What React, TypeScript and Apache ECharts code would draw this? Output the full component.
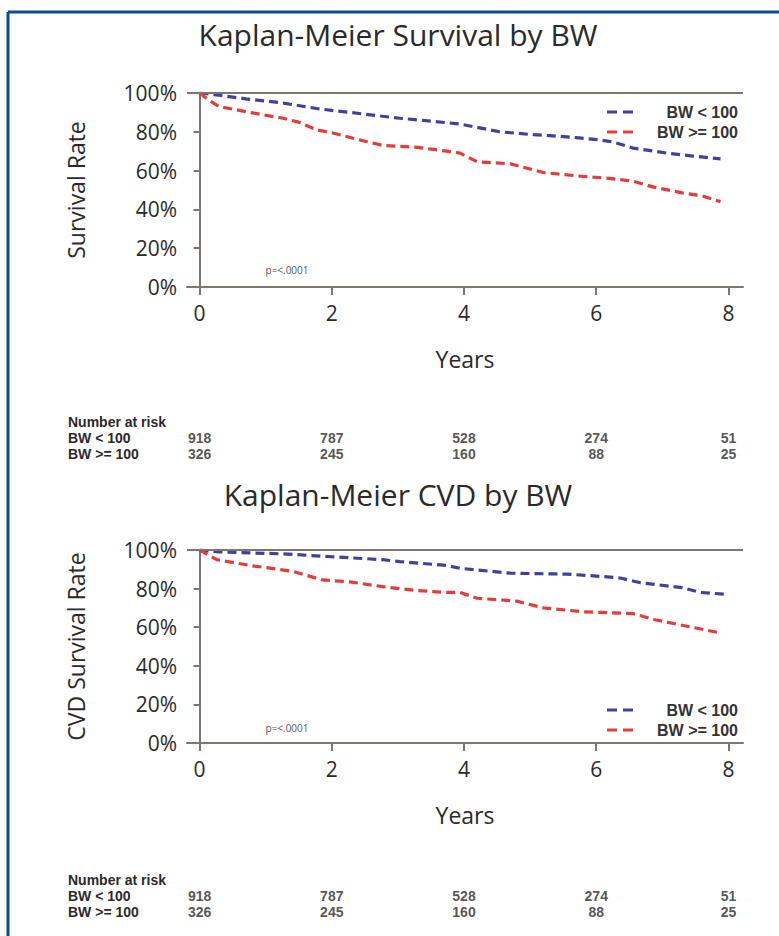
import React, { useEffect, useRef } from "react";
import * as echarts from "echarts";

// ---------- data ----------
const seriesNames = ["BW < 100", "BW >= 100"];
const xTicks = [0, 2, 4, 6, 8];

// Kaplan-Meier overall survival (time in years, survival fraction)
const survLow: [number, number][] = [
  [0, 1.0], [0.26, 0.99], [0.7, 0.97], [1.27, 0.948], [1.77, 0.92], [2.0, 0.91],
  [2.27, 0.9], [2.77, 0.88], [3.03, 0.87], [3.5, 0.855], [3.94, 0.84], [4.54, 0.8],
  [5.05, 0.785], [5.3, 0.78], [5.7, 0.77], [6.06, 0.758], [6.26, 0.747], [6.56, 0.716],
  [7.07, 0.69], [7.46, 0.675], [7.88, 0.66],
];
const survHigh: [number, number][] = [
  [0, 1.0], [0.15, 0.96], [0.3, 0.93], [0.76, 0.9], [1.26, 0.87], [1.5, 0.85],
  [1.77, 0.81], [2.0, 0.795], [2.52, 0.75], [2.77, 0.73], [3.3, 0.72], [3.74, 0.7],
  [3.94, 0.69], [4.2, 0.645], [4.7, 0.635], [5.2, 0.59], [5.8, 0.57], [6.2, 0.56],
  [6.56, 0.545], [6.87, 0.515], [7.3, 0.485], [7.6, 0.47], [7.88, 0.44],
];

// Kaplan-Meier CVD survival
const cvdLow: [number, number][] = [
  [0, 1.0], [0.3, 0.99], [1.26, 0.98], [2.0, 0.965], [2.77, 0.95], [3.03, 0.94],
  [3.74, 0.92], [3.94, 0.905], [4.7, 0.88], [5.55, 0.875], [6.0, 0.865], [6.36, 0.855],
  [6.67, 0.83], [7.3, 0.805], [7.58, 0.78], [7.98, 0.77],
];
const cvdHigh: [number, number][] = [
  [0, 1.0], [0.26, 0.95], [0.76, 0.92], [1.4, 0.89], [1.86, 0.845], [2.27, 0.835],
  [2.77, 0.81], [3.28, 0.79], [3.74, 0.78], [3.94, 0.78], [4.2, 0.75], [4.8, 0.735],
  [5.2, 0.7], [5.8, 0.68], [6.56, 0.67], [6.87, 0.64], [7.3, 0.61], [7.88, 0.57],
];

// Number at risk
const riskTimes = [0, 2, 4, 6, 8];
const riskLow = [918, 787, 528, 274, 51];
const riskHigh = [326, 245, 160, 88, 25];

const titles = ["Kaplan-Meier Survival by BW", "Kaplan-Meier CVD by BW"];
const yNames = ["Survival Rate", "CVD Survival Rate"];
const pText = "p=<.0001";

// ---------- style ----------
const FONT = "'Open Sans', 'Noto Sans', sans-serif";
const TFONT = "'Liberation Sans', Arial, sans-serif";
const AX = "#7d7570";
const BLUE = "#40409f";
const RED = "#e43c3a";
const TXT = "#2a2a2a";
const XMIN = -0.19;
const XMAX = 8.22;
const DASH_ICON = "path://M0,0H10V3H0Z M16,0H26V3H16Z";

export default function App() {
  const ref = useRef<HTMLDivElement>(null);

  useEffect(() => {
    document.body.style.margin = "0";
    if (!ref.current) return;
    const chart = echarts.init(ref.current, null, { renderer: "svg" });

    const plotGrids = [
      { left: 187, top: 93, width: 556, height: 194 },
      { left: 187, top: 550, width: 556, height: 193 },
    ];
    const riskGrids = [
      { left: 187, top: 430, width: 556, height: 32 },
      { left: 187, top: 888, width: 556, height: 32 },
    ];

    const plotX = (i: number) => ({
      gridIndex: i,
      type: "value",
      min: XMIN,
      max: XMAX,
      splitLine: { show: false },
      axisLine: { show: true, lineStyle: { color: AX, width: 2 } },
      axisTick: { show: true, length: 8, customValues: xTicks, lineStyle: { color: AX, width: 2 } },
      axisLabel: { customValues: xTicks, fontSize: 21, color: TXT, margin: 15, fontFamily: FONT },
      name: "Years",
      nameLocation: "middle",
      nameGap: 60,
      nameTextStyle: { fontSize: 23, color: TXT, fontFamily: FONT },
    });
    const plotY = (i: number) => ({
      gridIndex: i,
      type: "value",
      min: 0,
      max: 1,
      interval: 0.2,
      splitLine: { show: false },
      axisLine: { show: true, lineStyle: { color: AX, width: 2 } },
      axisTick: { show: true, length: 6, lineStyle: { color: AX, width: 2 } },
      axisLabel: {
        fontSize: 21,
        color: TXT,
        margin: 10,
        fontFamily: FONT,
        formatter: (v: number) => Math.round(v * 100) + "%",
      },
      name: yNames[i],
      nameLocation: "middle",
      nameGap: 100,
      nameTextStyle: { fontSize: 23, color: TXT, fontFamily: FONT },
    });
    const riskX = (i: number) => ({
      gridIndex: i + 2,
      type: "value",
      min: XMIN,
      max: XMAX,
      show: false,
    });
    const riskY = (i: number) => ({
      gridIndex: i + 2,
      type: "category",
      data: seriesNames,
      inverse: true,
      axisLine: { show: false },
      axisTick: { show: false },
      splitLine: { show: false },
      axisLabel: {
        interval: 0,
        align: "left",
        margin: 119,
        fontSize: 14,
        fontWeight: "bold",
        color: TXT,
        fontFamily: TFONT,
      },
    });

    const lineSeries = (name: string, data: [number, number][], color: string, idx: number, withRef: boolean) => ({
      name,
      type: "line",
      xAxisIndex: idx,
      yAxisIndex: idx,
      data,
      symbol: "none",
      lineStyle: { color, width: 3.2, type: [9, 5] },
      itemStyle: { color },
      z: 3,
      markLine: withRef
        ? {
            silent: true,
            symbol: "none",
            label: { show: false },
            lineStyle: { color: AX, type: "solid", width: 2 },
            data: [{ yAxis: 1 }],
          }
        : undefined,
    });

    const riskSeries = (id: string, idx: number, row: number, vals: number[]) => ({
      name: id,
      type: "scatter",
      xAxisIndex: idx + 2,
      yAxisIndex: idx + 2,
      symbolSize: 1,
      itemStyle: { color: "rgba(0,0,0,0)" },
      data: riskTimes.map((t, k) => [t, row, vals[k]]),
      labelLayout: { hideOverlap: false },
      label: {
        show: true,
        position: "inside",
        formatter: (p: any) => String(p.value[2]),
        fontSize: 14,
        fontWeight: "bold",
        color: TXT,
        fontFamily: TFONT,
      },
    });

    const legend = (top: number) => ({
      data: seriesNames.map((n) => ({ name: n, icon: DASH_ICON })),
      orient: "vertical",
      left: 607,
      top,
      padding: 0,
      itemWidth: 26,
      itemHeight: 3,
      itemGap: 4,
      selectedMode: false,
      formatter: (n: string) => `{a|${n}}`,
      textStyle: {
        rich: {
          a: {
            width: 100,
            align: "right",
            fontSize: 16,
            lineHeight: 18,
            fontWeight: "bold",
            color: "#333",
            fontFamily: TFONT,
          },
        },
      },
    });

    const titleStyle = { fontSize: 30, fontWeight: "normal", color: TXT, fontFamily: FONT };

    const option: any = {
      animation: false,
      backgroundColor: "#ffffff",
      title: [
        { text: titles[0], left: 398, top: 19, textAlign: "center", padding: 0, textStyle: titleStyle },
        { text: titles[1], left: 398, top: 479, textAlign: "center", padding: 0, textStyle: titleStyle },
      ],
      legend: [legend(104), legend(702)],
      grid: [...plotGrids, ...riskGrids],
      xAxis: [plotX(0), plotX(1), riskX(0), riskX(1)],
      yAxis: [plotY(0), plotY(1), riskY(0), riskY(1)],
      series: [
        lineSeries(seriesNames[0], survLow, BLUE, 0, true),
        lineSeries(seriesNames[1], survHigh, RED, 0, false),
        lineSeries(seriesNames[0], cvdLow, BLUE, 1, true),
        lineSeries(seriesNames[1], cvdHigh, RED, 1, false),
        riskSeries("risk1-low", 0, 0, riskLow),
        riskSeries("risk1-high", 0, 1, riskHigh),
        riskSeries("risk2-low", 1, 0, riskLow),
        riskSeries("risk2-high", 1, 1, riskHigh),
      ],
      graphic: [
        { type: "line", shape: { x1: 8, y1: 12, x2: 779, y2: 12 }, style: { stroke: "#0d4a94", lineWidth: 3 } },
        { type: "line", shape: { x1: 8, y1: 12, x2: 8, y2: 936 }, style: { stroke: "#0d4a94", lineWidth: 3 } },
        {
          type: "text",
          x: 68,
          y: 422,
          style: { text: "Number at risk", fontSize: 14, fontWeight: "bold", fill: TXT, fontFamily: TFONT, verticalAlign: "middle" },
        },
        {
          type: "text",
          x: 68,
          y: 880,
          style: { text: "Number at risk", fontSize: 14, fontWeight: "bold", fill: TXT, fontFamily: TFONT, verticalAlign: "middle" },
        },
        {
          type: "text",
          x: 287,
          y: 270,
          style: { text: pText, fontSize: 10, fill: "#555", fontFamily: FONT, align: "center", verticalAlign: "middle" },
        },
        {
          type: "text",
          x: 287,
          y: 728,
          style: { text: pText, fontSize: 10, fill: "#555", fontFamily: FONT, align: "center", verticalAlign: "middle" },
        },
      ],
    };

    chart.setOption(option);
    return () => chart.dispose();
  }, []);

  return <div ref={ref} style={{ width: 779, height: 936 }} />;
}
